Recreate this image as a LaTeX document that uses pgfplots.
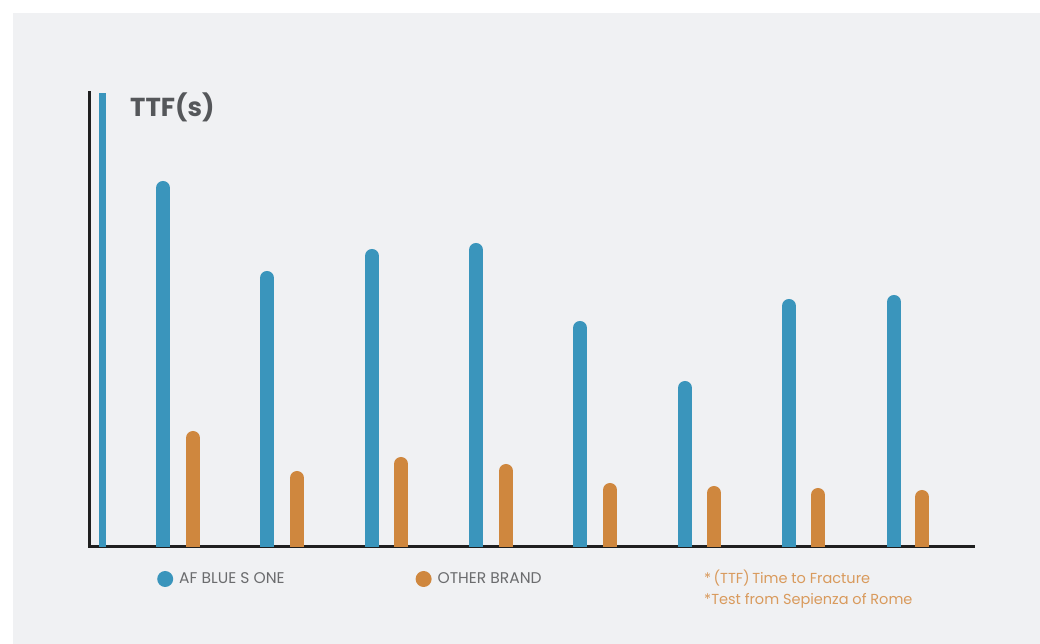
\documentclass[border=0pt]{standalone}
\usepackage{pgfplots}
\pgfplotsset{compat=1.18}
\usepackage{fontspec}
\setmainfont{Poppins}
\definecolor{bg}{HTML}{F0F1F3}
\definecolor{afblue}{HTML}{3A95BC}
\definecolor{other}{HTML}{CF873E}
\definecolor{note}{HTML}{D99A5C}
\definecolor{titlegrey}{HTML}{55575A}
\definecolor{legendgrey}{HTML}{6B6C6E}
\begin{document}
\begin{tikzpicture}
% page background
\fill[white] (0pt,0pt) rectangle (1040pt,644pt);
\fill[bg] (13pt,0pt) rectangle (1040pt,631pt);
\begin{axis}[
  at={(89pt,97pt)}, anchor=south west,
  scale only axis, width=884pt, height=454pt,
  xmin=0, xmax=884, ymin=0, ymax=454,
  axis x line=bottom, axis y line=left,
  axis line style={-, line width=3pt, color=black!88, line cap=rect},
  xtick=\empty, ytick=\empty,
  clip mode=individual,
  legend columns=2,
  legend image code/.code={\fill[draw=none, line width=0pt] (0pt,0pt) circle (8pt);},
  legend style={draw=none, fill=none, at={(axis cs:65,-32)}, anchor=west,
    font=\fontsize{15.5}{17}\selectfont\color{legendgrey},
    /tikz/every odd column/.append style={column sep=4pt},
    /tikz/every even column/.append style={column sep=129pt}},
]
% tall marker bar next to the y axis
\addplot[ycomb, color=afblue, line width=7pt, line cap=butt, forget plot]
  coordinates {(13.5,454)};
\addplot[ycomb, color=afblue, line width=14pt, line cap=round, mark=none]
  coordinates {(74,359) (178,269) (283,291) (387,297) (491,219) (596,159) (700,241) (805,245)};
\addplot[ycomb, color=other, line width=14pt, line cap=round, mark=none]
  coordinates {(104,109) (208,69) (312,83) (417,76) (521,57) (625,54) (729,52) (833,50)};
\legend{AF BLUE S ONE, OTHER BRAND}
\node[anchor=north west, inner sep=0pt, font=\fontsize{26}{30}\selectfont\bfseries, text=titlegrey]
  at (axis cs:41,454) {TTF(s)};
\node[anchor=north west, inner sep=0pt, align=left, text=note,
  font=\fontsize{14.5}{21}\selectfont]
  at (axis cs:615,-23) {*\,(TTF)\,Time to Fracture\\*Test from Sepienza of Rome};
\end{axis}
\end{tikzpicture}
\end{document}
